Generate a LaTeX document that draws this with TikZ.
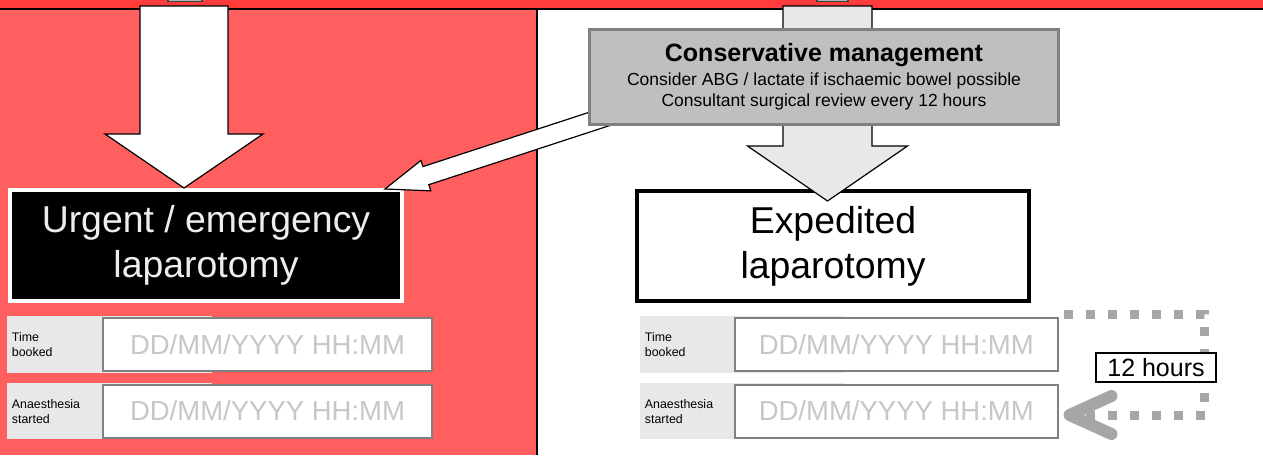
\documentclass[tikz,border=0pt]{standalone}
\usepackage{fontspec}
\setmainfont{Liberation Sans}
\usetikzlibrary{calc,arrows.meta}
\definecolor{bandred}{HTML}{FF3C3C}
\definecolor{panelred}{HTML}{FF5F5F}
\tikzset{
	fatarrow/.style={draw=black,line width=0.6pt,line join=miter},
	bigbox/.style={line width=2pt,align=center,inner sep=0pt,font=\fontsize{18.7}{22.5}\selectfont},
	fieldlabel/.style={fill=black!9,anchor=north west,minimum width=102.5pt,text width=98pt,align=left,inner xsep=2pt,font=\fontsize{6.2}{7.5}\selectfont},
	fieldbox/.style={draw=black!50,line width=1pt,fill=white,text=black!22,minimum width=164.5pt,minimum height=26.5pt,inner sep=0pt,font=\fontsize{13.75}{16}\selectfont},
	dotline/.style={draw=black!35,line width=4.5pt,dash pattern=on 4.5pt off 6.5pt}
}
\begin{document}
\begin{tikzpicture}[x=0.5pt,y=-0.5pt]
	\useasboundingbox (0,0) rectangle (1263,455);
	\fill[bandred] (0,0) rectangle (1263,8);
	\fill[panelred] (0,8) rectangle (537,455);
	\draw[line width=1pt] (0,8.5) -- (1263,8.5);
	\draw[line width=1pt] (537,8.5) -- (537,455);
	\draw[fill=black!30,draw=black!75,line width=0.6pt] (168,-5) rectangle (202,1.5);
	\draw[fill=black!30,draw=black!75,line width=0.6pt] (817,-5) rectangle (848,1.5);

	\node[bigbox,fill=black,draw=white,text=black!7,minimum width=196pt,minimum height=55.5pt] (urgent) at (206,245.5) {Urgent / emergency\\laparotomy};
	\node[bigbox,fill=white,draw=black,minimum width=196pt,minimum height=55pt] (expedited) at (833,246) {Expedited\\laparotomy};

	\coordinate (ltail) at (184,6);
	\coordinate (rtail) at (827.5,6);
	\coordinate (ltip) at (ltail |- urgent.north);
	\coordinate (rtip) at ($(rtail |- expedited.north)+(0,12)$);
	\coordinate (dtip) at ($(urgent.north east)+(-19,1)$);

	\draw[fatarrow,fill=white] ($(ltail)+(-44,0)$) -- ($(ltip)+(-44,-54)$) -- ++(-35,0) -- (ltip) -- ++(79,-54) -- ++(-35,0) -- ($(ltail)+(44,0)$) -- cycle;
	\draw[fatarrow,fill=white,shift={(dtip)},rotate=18.1] (0,0) -- (43,16) -- (43,9.5) -- (280,9.5) -- (280,-9.5) -- (43,-9.5) -- (43,-16) -- cycle;
	\draw[fatarrow,fill=black!9] ($(rtail)+(-44.5,0)$) -- ($(rtip)+(-44.5,-55)$) -- ++(-35.5,0) -- (rtip) -- ++(80,-55) -- ++(-35.5,0) -- ($(rtail)+(44.5,0)$) -- cycle;

	\node[draw=black!50,line width=1.5pt,fill=black!25,minimum width=234.5pt,minimum height=47.5pt,align=center,inner sep=0pt,font=\fontsize{8.75}{10.5}\selectfont] (conservative) at (824,77) {{\fontsize{12.5}{12.5}\selectfont\bfseries Conservative management}\\[1.25pt]Consider ABG / lactate if ischaemic bowel possible\\Consultant surgical review every 12 hours};

	\node[fieldlabel,minimum height=28.5pt] (ltimel) at (7,316) {Time\\booked};
	\node[fieldbox] (ltime) at (267.5,344.5) {DD/MM/YYYY HH:MM};
	\node[fieldlabel,minimum height=28pt] (lanal) at (7,383) {Anaesthesia\\started};
	\node[fieldbox] (lana) at (267.5,411) {DD/MM/YYYY HH:MM};

	\node[fieldlabel,minimum height=28.5pt] (rtimel) at (640,316) {Time\\booked};
	\node[fieldbox,minimum width=161.25pt] (rtime) at (896.25,344.5) {DD/MM/YYYY HH:MM};
	\node[fieldlabel,minimum height=28pt] (ranal) at (640,383) {Anaesthesia\\started};
	\node[fieldbox,minimum width=161.25pt] (rana) at (896.25,411) {DD/MM/YYYY HH:MM};

	\draw[dotline,-{Straight Barb[length=21pt,width=19pt,line width=6pt,round]}] ($(rtime.north east)+(5,-3)$) -- ++(141,0) |- ($(rana.east)+(5,4)$);
	\node[draw,line width=1pt,fill=white,minimum width=60pt,minimum height=14.5pt,inner sep=0pt,font=\fontsize{12.5}{14}\selectfont] (hours) at (1156,367.5) {12 hours};
\end{tikzpicture}
\end{document}
